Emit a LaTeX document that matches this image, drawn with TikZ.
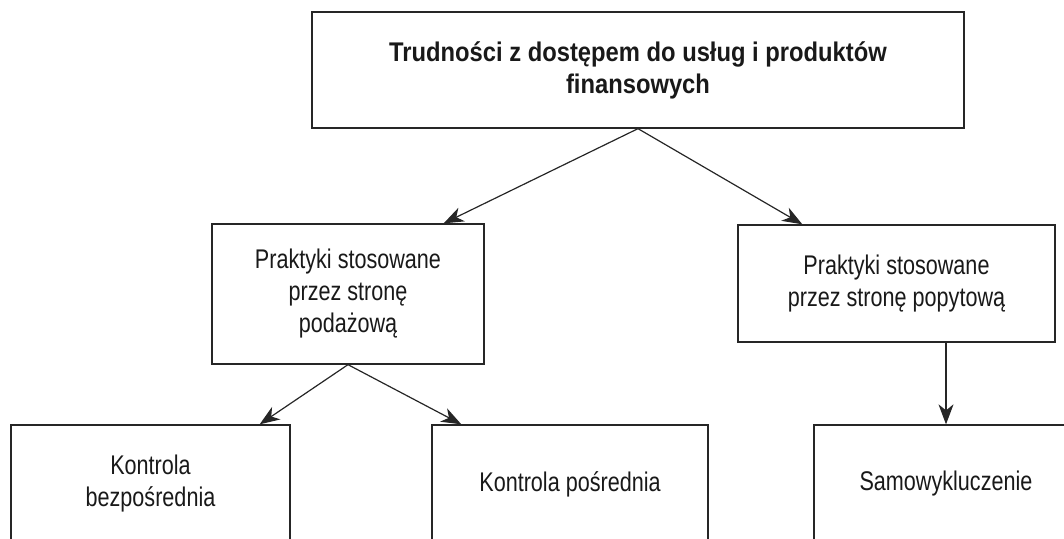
\documentclass[tikz,border=0pt]{standalone}
\usepackage{fontspec}
\setmainfont{Liberation Sans}[FakeStretch=0.8]
\newfontfamily\headfont{Liberation Sans}[FakeStretch=0.88]
\usetikzlibrary{arrows.meta, calc}

\begin{document}
\begin{tikzpicture}[x=1pt, y=-1pt,
	box/.style={draw=black!85, line width=1.3pt, inner sep=0pt, align=center, text=black!90, font=\fontsize{27}{32}\selectfont},
	link/.style={draw=black!85, line width=1.2pt, -{Stealth[length=20pt, width=15pt, inset=6pt]}}]
	\useasboundingbox (0,0) rectangle (1064,538);
	\clip (0,0) rectangle (1064,538);
	\node [box, minimum width=652pt, minimum height=116pt, font=\headfont\bfseries\fontsize{27}{32}\selectfont] (trud) at (638,70) {Trudności z dostępem do usług i produktów\\finansowych};
	\node [box, minimum width=272pt, minimum height=140pt] (podaz) at (348,294) {Praktyki stosowane\\przez stronę\\podażową};
	\node [box, minimum width=317pt, minimum height=117pt] (popyt) at (896.5,283.5) {Praktyki stosowane\\przez stronę popytową};
	\node [box, minimum width=279pt, minimum height=118pt] (bezp) at (150.5,484) {Kontrola\\bezpośrednia};
	\node [box, minimum width=276pt, minimum height=118pt] (posr) at (570,484) {Kontrola pośrednia};
	\node [box, minimum width=264pt, minimum height=118pt] (samo) at (946,484) {Samowykluczenie};
	\draw [link] (trud.south) -- ([xshift=-41pt]podaz.north east);
	\draw [link] (trud.south) -- ([xshift=65pt]popyt.north west);
	\draw [link] (podaz.south) -- ([xshift=-31pt]bezp.north east);
	\draw [link] (podaz.south) -- ([xshift=30pt]posr.north west);
	\draw [link] (popyt.south -| samo.north) -- (samo.north);
\end{tikzpicture}
\end{document}
